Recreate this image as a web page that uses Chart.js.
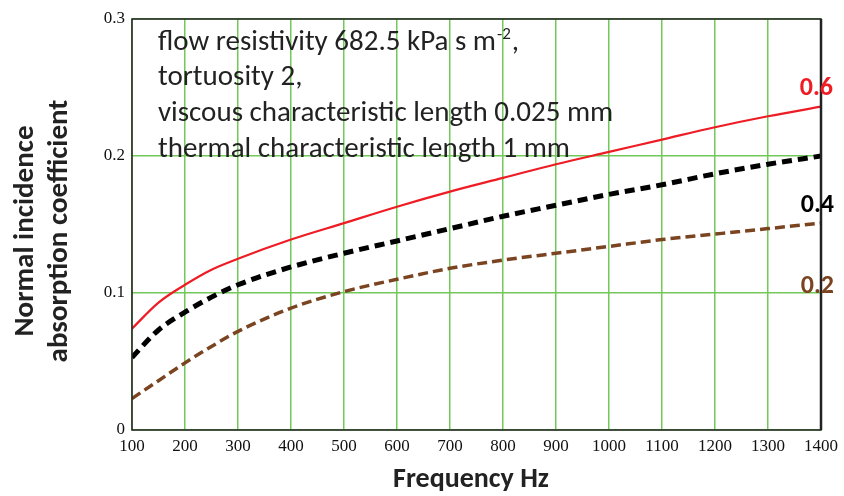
<!DOCTYPE html>
<html>
<head>
<meta charset="utf-8">
<script src="https://cdn.jsdelivr.net/npm/chart.js@4/dist/chart.umd.min.js"></script>
<style>
  html, body { margin: 0; padding: 0; background: #fff; }
  #wrap { width: 844px; height: 496px; position: relative; }
</style>
</head>
<body>
<div id="wrap"><canvas id="c" width="844" height="496"></canvas></div>
<script>
// Normal incidence absorption coefficient vs frequency, three porosities
const freqHz = [100, 150, 200, 250, 300, 400, 500, 600, 700, 800, 900, 1000, 1100, 1200, 1300, 1400];
const poro06 = [0.074, 0.093, 0.106, 0.117, 0.125, 0.139, 0.151, 0.163, 0.174, 0.184, 0.194, 0.203, 0.212, 0.221, 0.229, 0.236];
const poro04 = [0.053, 0.073, 0.086, 0.097, 0.106, 0.119, 0.129, 0.138, 0.147, 0.156, 0.164, 0.172, 0.179, 0.187, 0.194, 0.200];
const poro02 = [0.023, 0.036, 0.049, 0.061, 0.072, 0.089, 0.101, 0.110, 0.118, 0.124, 0.129, 0.134, 0.139, 0.143, 0.147, 0.151];

const xTicks = [100, 200, 300, 400, 500, 600, 700, 800, 900, 1000, 1100, 1200, 1300, 1400];
const yTicks = [0, 0.1, 0.2, 0.3];

const noteLines = [
  "flow resistivity 682.5 kPa s m",
  "tortuosity 2,",
  "viscous characteristic length 0.025 mm",
  "thermal characteristic length 1 mm",
];

const RED = "#ee1c24", BLACK = "#000000", BROWN = "#7b4420", GRID = "#72c95a";
const SANS = "Carlito, Lato, 'Open Sans', sans-serif";

const pts = (ys) => freqHz.map((x, i) => ({ x, y: ys[i] }));

// frame, note text, series labels and axis titles
const decor = {
  id: "decor",
  afterDatasetsDraw(chart) {
    const { ctx, chartArea: a } = chart;
    ctx.save();
    ctx.strokeStyle = "#222";
    ctx.lineWidth = 1.5;
    ctx.strokeRect(a.left, a.top, a.right - a.left, a.bottom - a.top);
    ctx.lineWidth = 2.5;
    ctx.beginPath(); ctx.moveTo(a.right, a.top); ctx.lineTo(a.right, a.bottom); ctx.stroke();

    // parameters note
    ctx.fillStyle = "#222";
    ctx.font = "29px " + SANS;
    ctx.textAlign = "left";
    ctx.textBaseline = "alphabetic";
    const base = [50, 85, 121, 157];
    noteLines.forEach((t, i) => ctx.fillText(t, 158, base[i]));
    const w0 = ctx.measureText(noteLines[0]).width;
    ctx.font = "17px " + SANS;
    ctx.fillText("-2", 158 + w0 + 1, 39);
    const w1 = ctx.measureText("-2").width;
    ctx.font = "29px " + SANS;
    ctx.fillText(",", 158 + w0 + w1 + 2, 50);

    // series labels
    ctx.font = "bold 26px " + SANS;
    ctx.textAlign = "right";
    ctx.fillStyle = RED;   ctx.fillText("0.6", 833, 95);
    ctx.fillStyle = BLACK; ctx.fillText("0.4", 834, 212);
    ctx.fillStyle = BROWN; ctx.fillText("0.2", 834, 293);

    // axis titles
    ctx.fillStyle = "#222";
    ctx.textAlign = "center";
    ctx.font = "bold 28px " + SANS;
    ctx.fillText("Frequency Hz", 471, 487);
    ctx.translate(0, 231);
    ctx.rotate(-Math.PI / 2);
    ctx.font = "bold 29px " + SANS;
    ctx.fillText("Normal incidence", 0, 33);
    ctx.fillText("absorption coefficient", 0, 67);
    ctx.restore();
  },
};

new Chart(document.getElementById("c"), {
  type: "line",
  data: {
    datasets: [
      { label: "0.6", data: pts(poro06), borderColor: RED, borderWidth: 2.2 },
      { label: "0.4", data: pts(poro04), borderColor: BLACK, borderWidth: 5, borderDash: [10, 6] },
      { label: "0.2", data: pts(poro02), borderColor: BROWN, borderWidth: 3.5, borderDash: [10, 5] },
    ],
  },
  options: {
    responsive: false,
    animation: false,
    events: [],
    elements: { point: { radius: 0 }, line: { cubicInterpolationMode: "monotone", fill: false } },
    layout: { padding: { top: 19, right: 22, left: 0, bottom: 0 } },
    plugins: { legend: { display: false }, tooltip: { enabled: false } },
    scales: {
      x: {
        type: "linear", min: 100, max: 1400,
        afterBuildTicks: (s) => { s.ticks = xTicks.map((v) => ({ value: v })); },
        afterFit: (s) => { s.height = 66; },
        grid: { color: GRID, lineWidth: 1.5, drawTicks: false },
        border: { display: false },
        ticks: {
          color: "#111", padding: 6, maxRotation: 0,
          font: { family: "'Liberation Serif', serif", size: 17 },
          callback: (v) => String(v),
        },
      },
      y: {
        type: "linear", min: 0, max: 0.3,
        afterBuildTicks: (s) => { s.ticks = yTicks.map((v) => ({ value: v })); },
        afterFit: (s) => { s.width = 132; },
        grid: { color: GRID, lineWidth: 1.5, drawTicks: false },
        border: { display: false },
        ticks: {
          color: "#111", padding: 7,
          font: { family: "'Liberation Serif', serif", size: 17 },
          callback: (v) => (v === 0 ? "0" : v.toFixed(1)),
        },
      },
    },
  },
  plugins: [decor],
});
</script>
</body>
</html>
